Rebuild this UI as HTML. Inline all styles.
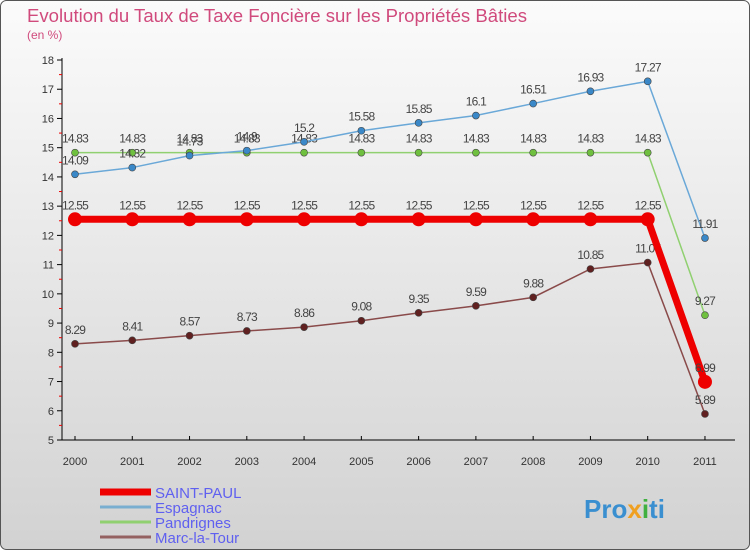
<!DOCTYPE html>
<html><head><meta charset="utf-8"><style>
body{margin:0;width:750px;height:550px;overflow:hidden;font-family:"Liberation Sans",sans-serif}
#c{position:absolute;left:0;top:0}
</style></head><body>
<svg id="c" width="750" height="550" xmlns="http://www.w3.org/2000/svg">
<defs><linearGradient id="bg" x1="0" y1="0" x2="0" y2="1"><stop offset="0" stop-color="#fbfbfb"/><stop offset="1" stop-color="#d2d2d2"/></linearGradient></defs>
<rect x="0.5" y="0.5" width="749" height="549" rx="6" fill="url(#bg)" stroke="#555"/>
<text x="27" y="22" font-size="18" fill="#d04a7c" textLength="500" lengthAdjust="spacingAndGlyphs">Evolution du Taux de Taxe Foncière sur les Propriétés Bâties</text>
<text x="27" y="39" font-size="12" fill="#d04a7c">(en %)</text>
<g id="axes"></g><g id="series"></g><g id="legend"></g>
<text x="584" y="518" font-size="26" font-weight="bold" fill="#3a8fd0">Pro<tspan fill="#f0a020">x</tspan><tspan fill="#40b040">i</tspan>ti</text>
</svg>
<script>
const years=[2000,2001,2002,2003,2004,2005,2006,2007,2008,2009,2010,2011];
const yTicks=[5,6,7,8,9,10,11,12,13,14,15,16,17,18];
const names=["SAINT-PAUL","Espagnac","Pandrignes","Marc-la-Tour"];
const saintPaul=[12.55,12.55,12.55,12.55,12.55,12.55,12.55,12.55,12.55,12.55,12.55,6.99];
const espagnac=[14.09,14.32,14.73,14.9,15.2,15.58,15.85,16.1,16.51,16.93,17.27,11.91];
const pandrignes=[14.83,14.83,14.83,14.83,14.83,14.83,14.83,14.83,14.83,14.83,14.83,9.27];
const marc=[8.29,8.41,8.57,8.73,8.86,9.08,9.35,9.59,9.88,10.85,11.07,5.89];
const NS="http://www.w3.org/2000/svg";
const x=i=>75+i*57.27, y=v=>440-(v-5)*(380/13);
function mk(t,a,p){const e=document.createElementNS(NS,t);for(const k in a)e.setAttribute(k,a[k]);p.appendChild(e);return e;}
const ax=document.getElementById('axes');
let e=mk('line',{x1:62,y1:58,x2:62,y2:440,stroke:'#000'},ax);


e=mk('line',{x1:62,y1:440,x2:735,y2:440,stroke:'#000'},ax);


yTicks.forEach(v=>{
 mk('line',{x1:57,y1:y(v),x2:62,y2:y(v),stroke:'#000'},ax);
 if(v<18)mk('line',{x1:59,y1:y(v+0.5),x2:62,y2:y(v+0.5),stroke:'#e00'},ax);
 const t=mk('text',{x:54,y:y(v)+4,'font-size':11,'text-anchor':'end',fill:'#333'},ax);t.textContent=v;
 
 
});
years.forEach((yr,i)=>{
 mk('line',{x1:x(i),y1:436,x2:x(i),y2:440,stroke:'#000'},ax);
 const t=mk('text',{x:x(i),y:465,'font-size':11,'text-anchor':'middle',fill:'#333'},ax);t.textContent=yr;
 
 
});
const sg=document.getElementById('series');
const cfg=[[pandrignes,'#90d070','#70c040',1.5,3.5,'pandrignes'],[espagnac,'#6aa8d8','#3a88c8',1.5,3.5,'espagnac'],[marc,'#8a4a4a','#602020',1.5,3.5,'marc-la-tour'],[saintPaul,'#ee0000','#ee0000',7,7,'saint-paul']];
cfg.forEach(([d,lc,pc,w,r,n])=>{
 const g=mk('g',{},sg);
 
 
 const p=mk('polyline',{points:d.map((v,i)=>x(i)+','+y(v)).join(' '),fill:'none',stroke:lc,'stroke-width':w},g);
 
 
 d.forEach((v,i)=>{
  const c=mk('circle',{cx:x(i),cy:y(v),r:r,fill:pc,stroke:'#444','stroke-width':w>3?0:0.6},g);
  
  
  const t=mk('text',{x:x(i),y:y(v)-10,'font-size':12,'text-anchor':'middle',fill:'#444','letter-spacing':'-0.8'},g);t.textContent=v;
  
  
 });
});
const lg=document.getElementById('legend');
const lc2=['#ee0000','#7aaed0','#90d070','#956060'],lw=[7,3,3,3];
names.forEach((n,i)=>{
 const yy=492+i*15;
 const l=mk('line',{x1:100,y1:yy,x2:151,y2:yy,stroke:lc2[i],'stroke-width':lw[i]},lg);
 
 
 const t=mk('text',{x:155,y:yy+6,'font-size':15,fill:'#6060f0'},lg);t.textContent=n;
 
 
});
</script>
</body></html>
